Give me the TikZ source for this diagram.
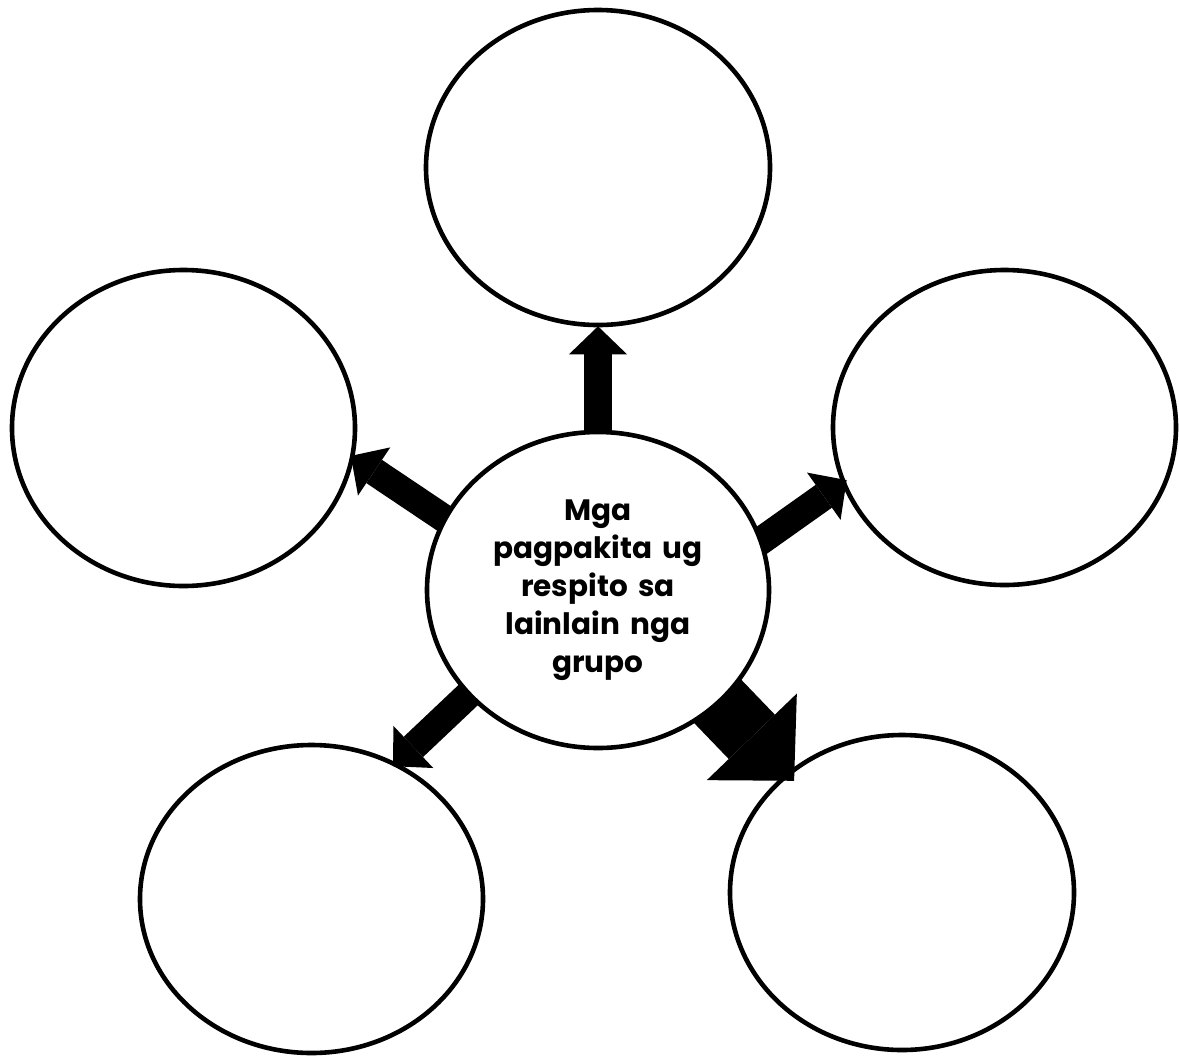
\documentclass[tikz,border=0pt]{standalone}
\usepackage{fontspec}
\setmainfont{Poppins}[WordSpace=1.7]
\usetikzlibrary{shapes.geometric,arrows.meta,backgrounds}
\begin{document}
\begin{tikzpicture}[x=1pt,y=-1pt,
  bubble/.style={ellipse, draw=black, line width=4.6pt, inner sep=0pt},
  hub/.style={bubble, fill=white, align=center, font=\fontsize{29.5}{38}\selectfont\bfseries},
  blockarrow/.style={line width=28pt, -{Triangle[length=28pt 0 0,width=58pt 0 0,line width=0pt]}, shorten <=-15pt},
  bigarrow/.style={line width=64pt, -{Triangle[length=61pt 0 0,width=125pt 0 0,line width=0pt]}, shorten <=-15pt}]
\useasboundingbox (0,0) rectangle (1179,1061);
\node[bubble, minimum width=344pt, minimum height=315pt] (top) at (598,167.5) {};
\node[bubble, minimum width=343pt, minimum height=316pt] (left) at (183.5,428) {};
\node[bubble, minimum width=343pt, minimum height=315pt] (right) at (1004.5,427.5) {};
\node[bubble, minimum width=343pt, minimum height=308pt] (bl) at (311.5,899) {};
\node[bubble, minimum width=344pt, minimum height=315pt] (br) at (902,892.5) {};
\node[hub, minimum width=342pt, minimum height=316pt] (c) at (598,590) {Mga\\pagpakita ug\\respito sa\\lainlain nga\\grupo};
\begin{pgfonlayer}{background}
\fill[white] (0,0) rectangle (1179,1061);
\draw[blockarrow, shorten >=-1pt] (c.90) -- (top.-90);
\draw[blockarrow, shorten >=-4pt] (c.155) -- (left.-10);
\draw[blockarrow, shorten >=-6pt] (c.17) -- (right.199);
\draw[blockarrow, shorten >=-5pt] (c.219) -- (bl.58);
\draw[bigarrow, shorten >=-11pt] (c.-43) -- (br.134);
\end{pgfonlayer}
\end{tikzpicture}
\end{document}
